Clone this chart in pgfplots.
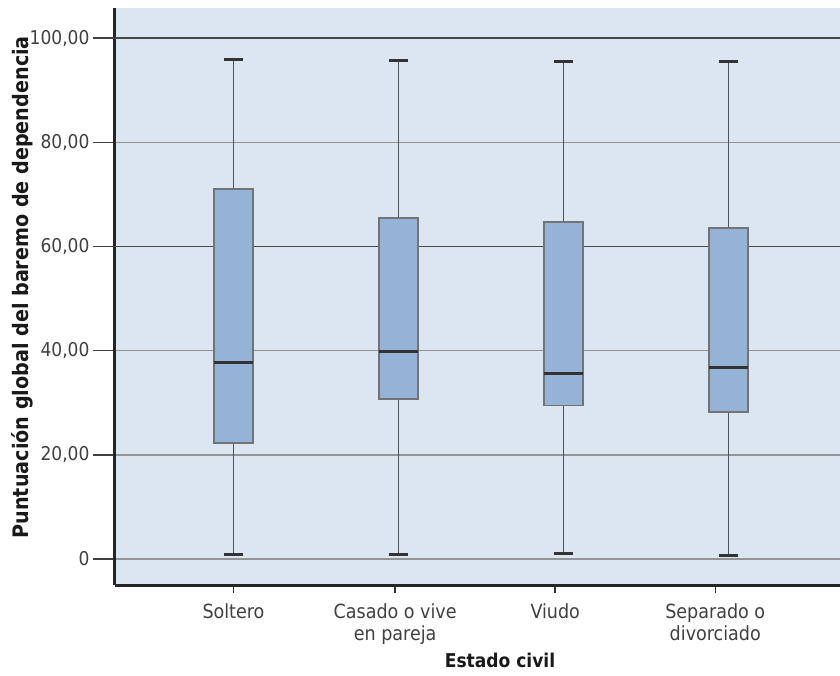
\documentclass[border=0pt]{standalone}
\usepackage{fontspec}
\setmainfont{DejaVu Sans Condensed}
\usepackage{pgfplots}
\usepgfplotslibrary{statistics}
\pgfplotsset{compat=1.18}
\definecolor{bg}{RGB}{220,230,242}
\definecolor{boxfill}{RGB}{149,179,215}
\definecolor{boxedge}{RGB}{115,115,115}
\definecolor{txt}{RGB}{64,64,64}
\pgfplotsset{
 boxplot/draw/lower whisker/.code={%
   \draw[black!68, line width=1.8pt] (boxplot cs:\pgfplotsboxplotvalue{lower whisker}) -- (boxplot cs:\pgfplotsboxplotvalue{lower quartile});
   \draw[black!80, line width=3pt] (boxplot whisker cs:\pgfplotsboxplotvalue{lower whisker},0) -- (boxplot whisker cs:\pgfplotsboxplotvalue{lower whisker},1);
 },
 boxplot/draw/upper whisker/.code={%
   \draw[black!68, line width=1.8pt] (boxplot cs:\pgfplotsboxplotvalue{upper whisker}) -- (boxplot cs:\pgfplotsboxplotvalue{upper quartile});
   \draw[black!80, line width=3pt] (boxplot whisker cs:\pgfplotsboxplotvalue{upper whisker},0) -- (boxplot whisker cs:\pgfplotsboxplotvalue{upper whisker},1);
 },
}
\begin{document}
\begin{tikzpicture}
\begin{axis}[
 scale only axis, width=725pt, height=577pt,
 at={(0,0)}, anchor=south west,
 xmin=0.282, xmax=4.676, ymin=-5, ymax=105.8,
 axis x line=bottom, axis y line=left,
 axis line style={-, line width=3pt, black!85},
 axis background/.style={fill=bg},
 tick align=outside,
 major tick length=22pt, minor tick length=8pt,
 ytick={0,20,40,80}, yticklabels={0,20{,}00,40{,}00,80{,}00},
 extra y ticks={60,100}, extra y tick labels={60{,}00,100{,}00},
 ymajorgrids, grid style={line width=1.6pt, black!42},
 extra y tick style={grid style={line width=1.6pt, black!72}},
 ytick style={line width=1.5pt, black!75},
 yticklabel style={font=\fontsize{19}{22}\selectfont, text=txt},
 xtick={1,1.98,2.95,3.92},
 xticklabels={Soltero,{Casado o vive\\en pareja},Viudo,{Separado o\\divorciado}},
 major x tick style={draw=none},
 minor xtick={1,1.98,2.95,3.92},
 minor x tick style={draw=black!80, line width=1.5pt},
 xticklabel style={font=\fontsize{19.5}{22}\selectfont, text=txt, align=center, anchor=north, yshift=7pt},
 xlabel={Estado civil},
 xlabel style={font=\bfseries\fontsize{19}{22}\selectfont, text=black!90, at={(axis description cs:0.531,-0.13)}, anchor=center},
 ylabel={Puntuación global del baremo de dependencia},
 ylabel style={font=\bfseries\fontsize{21.3}{24}\selectfont, text=black!90, at={(axis description cs:-0.1276,0.516)}, anchor=center},
 boxplot/draw direction=y,
 boxplot/box extend=0.236,
 boxplot/whisker extend=0.12,
 boxplot/every box/.style={draw=boxedge, line width=1.5pt, fill=boxfill},
 boxplot/every median/.style={draw=black!80, line width=3pt},
]
\addplot[boxplot prepared={draw position=1, lower whisker=0.9, lower quartile=22.3, median=37.7, upper quartile=71.0, upper whisker=95.9}] coordinates {};
\addplot[boxplot prepared={draw position=2, lower whisker=0.8, lower quartile=30.7, median=39.8, upper quartile=65.5, upper whisker=95.8}] coordinates {};
\addplot[boxplot prepared={draw position=3, lower whisker=1.0, lower quartile=29.5, median=35.6, upper quartile=64.7, upper whisker=95.6}] coordinates {};
\addplot[boxplot prepared={draw position=4, lower whisker=0.6, lower quartile=28.2, median=36.8, upper quartile=63.6, upper whisker=95.6}] coordinates {};
\end{axis}
\pgfresetboundingbox
\useasboundingbox (-115pt,-90pt) rectangle (725pt,585pt);
\end{tikzpicture}
\end{document}
